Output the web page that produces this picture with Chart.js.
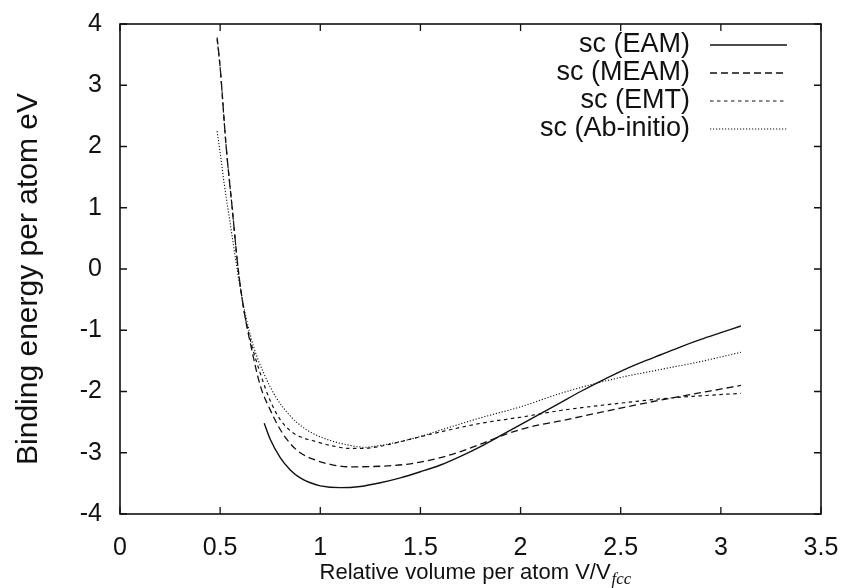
<!DOCTYPE html>
<html>
<head>
<meta charset="utf-8">
<script src="https://cdn.jsdelivr.net/npm/chart.js@4/dist/chart.umd.min.js"></script>
<style>
  html, body { margin: 0; padding: 0; background: #fff; }
  #wrap { width: 844px; height: 588px; position: relative; }
</style>
</head>
<body>
<div id="wrap"><canvas id="c" width="844" height="588"></canvas></div>
<script>
'use strict';

// ── 데이터 ─────────────────────────────────────
const X_TICKS = [0, 0.5, 1, 1.5, 2, 2.5, 3, 3.5];
const Y_TICKS = [-4, -3, -2, -1, 0, 1, 2, 3, 4];

const eamX = [0.72, 0.75, 0.8, 0.85, 0.9, 0.95, 1.0, 1.1, 1.2, 1.3, 1.4, 1.5, 1.6, 1.7, 1.8, 1.9, 2.0, 2.1, 2.2, 2.3, 2.4, 2.5, 2.6, 2.7, 2.8, 2.9, 3.0, 3.1];
const eamY = [-2.52, -2.78, -3.08, -3.28, -3.41, -3.49, -3.54, -3.57, -3.55, -3.49, -3.41, -3.31, -3.2, -3.06, -2.9, -2.72, -2.54, -2.36, -2.18, -2.0, -1.83, -1.67, -1.53, -1.4, -1.27, -1.15, -1.04, -0.93];

const meamX = [0.485, 0.5, 0.53, 0.56, 0.59, 0.62, 0.65, 0.7, 0.75, 0.8, 0.85, 0.9, 0.96, 1.05, 1.15, 1.3, 1.45, 1.6, 1.7, 1.8, 1.9, 2.0, 2.1, 2.2, 2.3, 2.5, 2.7, 2.9, 3.1];
const meamY = [3.78, 3.3, 2.0, 1.0, 0.0, -0.7, -1.2, -1.9, -2.3, -2.62, -2.85, -3.0, -3.1, -3.19, -3.23, -3.22, -3.18, -3.08, -2.98, -2.86, -2.73, -2.62, -2.54, -2.48, -2.41, -2.27, -2.14, -2.02, -1.9];

const emtX = [0.485, 0.5, 0.53, 0.56, 0.59, 0.62, 0.65, 0.7, 0.75, 0.8, 0.85, 0.9, 0.96, 1.05, 1.15, 1.25, 1.35, 1.46, 1.6, 1.8, 2.0, 2.2, 2.5, 2.7, 2.9, 3.1];
const emtY = [3.75, 3.28, 2.0, 1.0, 0.0, -0.7, -1.15, -1.7, -2.15, -2.46, -2.64, -2.74, -2.8, -2.88, -2.93, -2.92, -2.86, -2.77, -2.66, -2.52, -2.42, -2.31, -2.19, -2.12, -2.07, -2.03];

const abX = [0.485, 0.5, 0.52, 0.55, 0.58, 0.6, 0.63, 0.67, 0.72, 0.78, 0.85, 0.9, 0.96, 1.05, 1.15, 1.22, 1.3, 1.46, 1.6, 1.8, 2.0, 2.2, 2.35, 2.5, 2.7, 2.9, 3.1];
const abY = [2.25, 1.9, 1.4, 0.75, 0.1, -0.3, -0.8, -1.3, -1.72, -2.1, -2.4, -2.55, -2.68, -2.8, -2.88, -2.91, -2.88, -2.77, -2.63, -2.43, -2.25, -2.03, -1.89, -1.77, -1.64, -1.51, -1.36];

const SERIES_LABELS = ['sc (EAM)', 'sc (MEAM)', 'sc (EMT)', 'sc (Ab-initio)'];

// ── 유틸 ──────────────────────────────────────────────
function pairs(xs, ys) {
  return xs.map((x, i) => ({ x, y: ys[i] }));
}

const FONT = "'Liberation Sans', Arial, Helvetica, sans-serif";
const INK = '#111';

function series(label, xs, ys, dash, width) {
  return {
    label,
    data: pairs(xs, ys),
    borderColor: INK,
    borderWidth: width,
    borderDash: dash,
    pointRadius: 0,
    fill: false,
    cubicInterpolationMode: 'monotone'
  };
}

// ── 테두리 + 안쪽 눈금 (gnuplot 스타일) ───────────────
const framePlugin = {
  id: 'frame',
  afterDatasetsDraw(chart) {
    const { ctx, chartArea: a, scales } = chart;
    const len = 7;
    ctx.save();
    ctx.strokeStyle = INK;
    ctx.lineWidth = 1.6;
    ctx.strokeRect(a.left, a.top, a.right - a.left, a.bottom - a.top);
    ctx.lineWidth = 1.3;
    ctx.beginPath();
    X_TICKS.forEach(v => {
      const px = scales.x.getPixelForValue(v);
      ctx.moveTo(px, a.bottom); ctx.lineTo(px, a.bottom - len);
      ctx.moveTo(px, a.top);    ctx.lineTo(px, a.top + len);
    });
    Y_TICKS.forEach(v => {
      const py = scales.y.getPixelForValue(v);
      ctx.moveTo(a.left, py);  ctx.lineTo(a.left + len, py);
      ctx.moveTo(a.right, py); ctx.lineTo(a.right - len, py);
    });
    ctx.stroke();
    ctx.restore();
  }
};

// ── 범례 (텍스트 오른쪽 정렬 + 선 샘플) ────────────────
const legendPlugin = {
  id: 'keyBox',
  afterDraw(chart) {
    const { ctx } = chart;
    const textRight = 690, lineL = 710, lineR = 787;
    const top = 45, step = 28;
    ctx.save();
    ctx.font = '27px ' + FONT;
    ctx.fillStyle = INK;
    ctx.textAlign = 'right';
    ctx.textBaseline = 'middle';
    chart.data.datasets.forEach((ds, i) => {
      const y = top + i * step;
      ctx.fillText(ds.label, textRight, y);
      ctx.strokeStyle = ds.borderColor;
      ctx.lineWidth = ds.borderWidth;
      ctx.setLineDash(ds.borderDash || []);
      ctx.beginPath();
      ctx.moveTo(lineL, y);
      ctx.lineTo(lineR, y);
      ctx.stroke();
    });
    ctx.restore();
  }
};

// ── 축 제목 (아래첨자 fcc 포함) ───────────────────────
const titlePlugin = {
  id: 'axisTitles',
  afterDraw(chart) {
    const { ctx } = chart;
    ctx.save();
    ctx.fillStyle = INK;

    // x 제목
    const main = 'Relative volume per atom V/V';
    const sub = 'fcc';
    const mainFont = '22px ' + FONT;
    const subFont = 'italic 17px "Liberation Serif", "Times New Roman", serif';
    ctx.font = mainFont;
    const w1 = ctx.measureText(main).width;
    ctx.font = subFont;
    const w2 = ctx.measureText(sub).width;
    const cx = 475, by = 579;
    const x0 = cx - (w1 + w2) / 2;
    ctx.textAlign = 'left';
    ctx.textBaseline = 'alphabetic';
    ctx.font = mainFont;
    ctx.fillText(main, x0, by);
    ctx.font = subFont;
    ctx.fillText(sub, x0 + w1 + 1, by + 5);

    // y 제목
    ctx.translate(29, 279);
    ctx.rotate(-Math.PI / 2);
    ctx.font = '30px ' + FONT;
    ctx.textAlign = 'center';
    ctx.textBaseline = 'middle';
    ctx.fillText('Binding energy per atom eV', 0, 0);
    ctx.restore();
  }
};

// ── 차트 ──────────────────────────────────────────────
Chart.defaults.font.family = FONT;
Chart.defaults.color = INK;

new Chart(document.getElementById('c'), {
  type: 'line',
  data: {
    datasets: [
      series(SERIES_LABELS[0], eamX, eamY, [], 1.4),
      series(SERIES_LABELS[1], meamX, meamY, [7, 4], 1.3),
      series(SERIES_LABELS[2], emtX, emtY, [3.5, 3.5], 1.2),
      series(SERIES_LABELS[3], abX, abY, [1.2, 1.8], 1.1)
    ]
  },
  options: {
    responsive: false,
    animation: false,
    layout: { padding: { left: 0, right: 23, top: 24, bottom: 0 } },
    plugins: {
      legend: { display: false },
      tooltip: { enabled: false }
    },
    scales: {
      x: {
        type: 'linear',
        min: 0, max: 3.5,
        afterFit: s => { s.height = 74; s.paddingLeft = 0; s.paddingRight = 0; },
        afterBuildTicks: s => { s.ticks = X_TICKS.map(v => ({ value: v })); },
        grid: { display: false, drawTicks: false },
        border: { display: false },
        ticks: { font: { size: 25 }, padding: 19, maxRotation: 0, color: INK, callback: v => String(v) }
      },
      y: {
        type: 'linear',
        min: -4, max: 4,
        afterFit: s => { s.width = 120; s.paddingTop = 0; s.paddingBottom = 0; },
        afterBuildTicks: s => { s.ticks = Y_TICKS.map(v => ({ value: v })); },
        grid: { display: false, drawTicks: false },
        border: { display: false },
        ticks: { font: { size: 25 }, padding: 18, color: INK, callback: v => String(v) }
      }
    }
  },
  plugins: [framePlugin, legendPlugin, titlePlugin]
});
</script>
</body>
</html>
